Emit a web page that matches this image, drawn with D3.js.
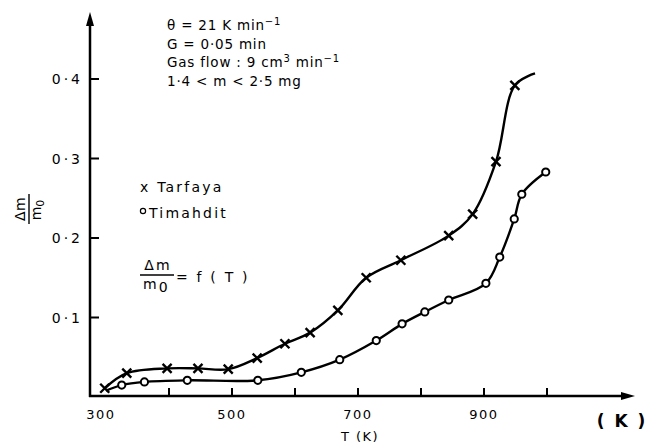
<!DOCTYPE html>
<html lang="en">
<head>
    <meta charset="utf-8" />
    <title>TG curves</title>
    <style>
        body { margin: 0; background: white; }
        text { font-family: 'DejaVu Sans', sans-serif; fill: black; }
        .axis-line { stroke: black; stroke-width: 2.5px; fill: none; }
        .tick { stroke: black; stroke-width: 2px; }
        .curve { stroke: black; stroke-width: 2.4px; fill: none; }
        .mark-x { stroke: black; stroke-width: 2.4px; }
        .mark-o { stroke: black; stroke-width: 2px; fill: white; }
        .note { font-size: 13.5px; letter-spacing: 0.8px; }
        .legend { font-size: 14px; letter-spacing: 2.2px; }
    </style>
    <script src="https://cdn.jsdelivr.net/npm/d3@7"></script>
</head>
<body>
    <svg id="vis" width="647" height="443"></svg>
    <script>
        // Tarfaya (x markers)
        var tarfayaT = [298, 333, 397, 446, 494, 540, 584, 624, 668, 713, 768, 844, 882, 919, 949];
        var tarfayaV = [0.011, 0.030, 0.036, 0.036, 0.035, 0.049, 0.067, 0.081, 0.109, 0.150, 0.172, 0.203, 0.230, 0.296, 0.392];
        var tarfayaEnd = { t: 981, v: 0.407 };   // curve continues past last marker

        // Timahdit (o markers); first point is the shared start, no marker drawn
        var timahditT = [300, 325, 361, 429, 541, 610, 671, 729, 770, 806, 844, 903, 925, 948, 960, 998];
        var timahditV = [0.008, 0.015, 0.019, 0.021, 0.021, 0.031, 0.047, 0.071, 0.092, 0.107, 0.122, 0.143, 0.176, 0.224, 0.255, 0.283];

        var yTicks = [0.1, 0.2, 0.3, 0.4];
        var yTickLabels = ["0·1", "0·2", "0·3", "0·4"];
        var xTicks = [400, 500, 600, 700, 800, 900, 1000];
        var xLabels = [300, 500, 700, 900];

        var noteLines = ["θ = 21 K min", "G = 0·05  min", "Gas flow : 9  cm", "1·4 < m < 2·5 mg"];

        var svg = d3.select("#vis");

        var x = d3.scaleLinear().domain([500, 700]).range([232, 358]);
        var y = d3.scaleLinear().domain([0, 0.4]).range([397, 79]);

        var axisX0 = 90, axisY0 = 396;

        // axes with arrow heads
        svg.append("line").attr("class", "axis-line")
            .attr("x1", axisX0).attr("x2", axisX0).attr("y1", axisY0 + 1).attr("y2", 20);
        svg.append("path").attr("d", "M" + axisX0 + ",12 L" + (axisX0 - 4) + ",26 L" + (axisX0 + 4) + ",26 Z").attr("fill", "black");

        svg.append("line").attr("class", "axis-line")
            .attr("x1", axisX0 - 1).attr("x2", 626).attr("y1", axisY0).attr("y2", axisY0);
        svg.append("path").attr("d", "M635," + axisY0 + " L621," + (axisY0 - 4) + " L621," + (axisY0 + 4) + " Z").attr("fill", "black");

        // y ticks
        svg.selectAll("line.ytick").data(yTicks).enter().append("line").attr("class", "tick ytick")
            .attr("x1", axisX0).attr("x2", axisX0 + 9)
            .attr("y1", function (d) { return y(d); }).attr("y2", function (d) { return y(d); });
        svg.selectAll("text.ylab").data(yTicks).enter().append("text").attr("class", "ylab")
            .attr("x", 83).attr("y", function (d) { return y(d); })
            .attr("text-anchor", "end").attr("dominant-baseline", "central")
            .style("font-size", "14px").style("letter-spacing", "3px")
            .text(function (d, i) { return yTickLabels[i]; });

        // x ticks
        svg.selectAll("line.xtick").data(xTicks).enter().append("line").attr("class", "tick xtick")
            .attr("x1", function (d) { return x(d); }).attr("x2", function (d) { return x(d); })
            .attr("y1", axisY0).attr("y2", axisY0 - 8);
        svg.selectAll("text.xlab").data(xLabels).enter().append("text").attr("class", "xlab")
            .attr("x", function (d) { return x(d) - (d == 300 ? 5 : 0); }).attr("y", 419)
            .attr("text-anchor", "middle")
            .style("font-size", "13px").style("letter-spacing", "1.5px")
            .text(function (d) { return d; });

        svg.append("text").attr("x", 360).attr("y", 441).attr("text-anchor", "middle")
            .style("font-size", "13px").style("letter-spacing", "1.5px").text("T (K)");
        svg.append("text").attr("x", 622).attr("y", 427).attr("text-anchor", "middle")
            .style("font-size", "17px").style("font-weight", "bold").style("letter-spacing", "2px").text("( K )");

        // y axis label (rotated fraction)
        var yl = svg.append("g").attr("transform", "translate(29,209) rotate(-90)");
        yl.append("text").attr("x", 0).attr("y", -4).attr("text-anchor", "middle")
            .style("font-size", "14px").style("letter-spacing", "0.5px").text("Δm");
        yl.append("line").attr("x1", -15).attr("x2", 15).attr("y1", 0).attr("y2", 0)
            .attr("stroke", "black").attr("stroke-width", 1.4);
        yl.append("text").attr("x", -1).attr("y", 12).attr("text-anchor", "middle")
            .style("font-size", "14px").text("m").append("tspan").attr("dy", 3).style("font-size", "11px").text("0");

        // notes top
        var notes = svg.append("g");
        notes.selectAll("text").data(noteLines).enter().append("text").attr("class", "note")
            .attr("x", 167).attr("y", function (d, i) { return 30 + i * 18.5; })
            .text(function (d) { return d; });
        var n1 = notes.select("text:nth-child(1)");
        n1.append("tspan").attr("dy", -5).style("font-size", "10px").text("−1");
        var n3 = notes.select("text:nth-child(3)");
        n3.append("tspan").attr("dy", -5).style("font-size", "10px").text("3");
        n3.append("tspan").attr("dy", 5).text("  min");
        n3.append("tspan").attr("dy", -5).style("font-size", "10px").text("−1");

        // legend
        svg.append("text").attr("class", "legend").attr("x", 140).attr("y", 192).text("x Tarfaya");
        svg.append("circle").attr("cx", 143).attr("cy", 211).attr("r", 2.6)
            .attr("fill", "none").attr("stroke", "black").attr("stroke-width", 1.2);
        svg.append("text").attr("class", "legend").attr("x", 149).attr("y", 218).text("Timahdit");

        // formula
        svg.append("text").attr("class", "legend").attr("x", 158).attr("y", 270).attr("text-anchor", "middle").text("Δm");
        svg.append("line").attr("x1", 140).attr("x2", 174).attr("y1", 275).attr("y2", 275)
            .attr("stroke", "black").attr("stroke-width", 1.3);
        svg.append("text").attr("class", "legend").attr("x", 143).attr("y", 289).text("m")
            .append("tspan").attr("dy", 3).text("0");
        svg.append("text").attr("class", "legend").attr("x", 176).attr("y", 282).text("= f ( T )");

        // curves
        var line = d3.line().x(function (d) { return x(d.t); }).y(function (d) { return y(d.v); })
            .curve(d3.curveCatmullRom.alpha(0.5));

        var tarfaya = tarfayaT.map(function (t, i) { return { t: t, v: tarfayaV[i] }; });
        var timahdit = timahditT.map(function (t, i) { return { t: t, v: timahditV[i] }; });

        svg.append("path").attr("class", "curve").datum(tarfaya.concat([tarfayaEnd])).attr("d", line);
        svg.append("path").attr("class", "curve").datum(timahdit).attr("d", line);

        // markers
        var s = 4.5;
        var xm = svg.selectAll("g.xm").data(tarfaya).enter().append("g").attr("class", "xm")
            .attr("transform", function (d) { return "translate(" + x(d.t) + "," + y(d.v) + ")"; });
        xm.append("line").attr("class", "mark-x").attr("x1", -s).attr("y1", -s).attr("x2", s).attr("y2", s);
        xm.append("line").attr("class", "mark-x").attr("x1", -s).attr("y1", s).attr("x2", s).attr("y2", -s);

        svg.selectAll("circle.om").data(timahdit.slice(1)).enter().append("circle").attr("class", "mark-o om")
            .attr("cx", function (d) { return x(d.t); }).attr("cy", function (d) { return y(d.v); })
            .attr("r", 3.6);
    </script>
</body>
</html>
